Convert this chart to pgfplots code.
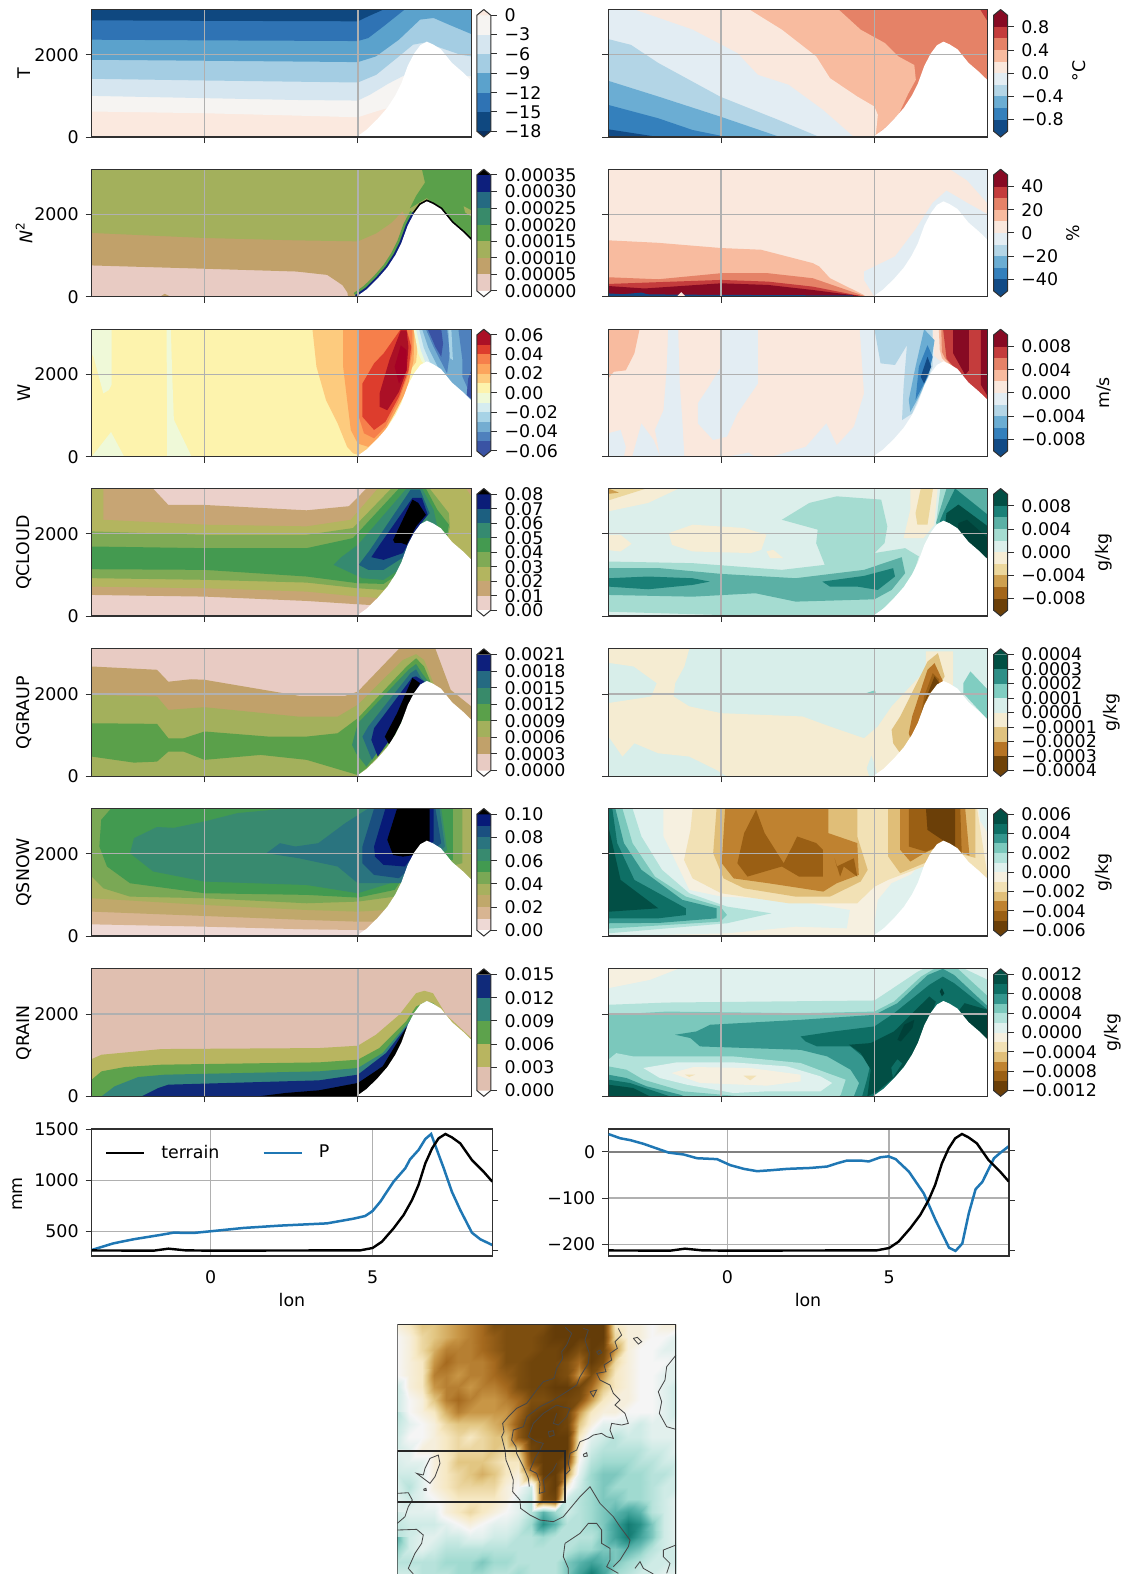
\documentclass[border=0pt]{standalone}
\usepackage{fontspec}
\setmainfont{DejaVu Sans}
\usepackage{pgfplots}
\pgfplotsset{compat=1.18}
\newcommand\fs{\fontsize{8.7}{10}\selectfont}
\newcommand\hc[2]{\definecolor{#1}{HTML}{#2}}
% RdBu
\hc{ra}{870A23}\hc{rb}{C43C3C}\hc{rc}{E58267}\hc{rd}{F8BB9F}\hc{re}{FAE8DD}
\hc{rf}{E3EDF3}\hc{rg}{B3D5E6}\hc{rh}{6BADD3}\hc{ri}{3480BC}\hc{rj}{124B86}
% BrBG 10
\hc{ba}{024F45}\hc{bb}{1A8077}\hc{bc}{5BB0A5}\hc{bd}{A5DCD1}\hc{be}{DCEFEB}
\hc{bf}{F6EDD5}\hc{bg}{ECD79C}\hc{bh}{CEA050}\hc{bi}{A3661B}\hc{bj}{6B3F08}
% BrBG 12
\hc{ca}{024F45}\hc{cb}{0E6F65}\hc{cc}{35968E}\hc{cd}{7BC8BC}\hc{ce}{B2E2DA}\hc{cf}{E0F1EE}
\hc{cg}{F6F0E0}\hc{ch}{F2E1B5}\hc{ci}{E0BE78}\hc{cj}{BF8230}\hc{ck}{9A5F14}\hc{cl}{6B3F08}
% BrBG 8
\hc{da}{014F43}\hc{db}{2F8F87}\hc{dc}{80CDC1}\hc{dd}{D8EEEA}\hc{de}{F5ECD2}\hc{df}{E0C27F}\hc{dg}{B67425}\hc{dh}{6F4208}
% T
\hc{ta}{FBE9DF}\hc{tb}{F6F4F2}\hc{tc}{D6E6F0}\hc{td}{A4CDE3}\hc{te}{5BA2CC}\hc{tf}{2F73B4}\hc{tg}{0F4880}\hc{th}{0A3060}
% W
\hc{wa}{AB1026}\hc{wb}{DD3D2D}\hc{wc}{F67F4B}\hc{wd}{FCA55D}\hc{we}{FDCB7E}\hc{wf}{FDF3AD}
\hc{wg}{EFF9D8}\hc{wh}{D5ECF0}\hc{wi}{A7D3E6}\hc{wj}{74ADD1}\hc{wk}{4F81BD}\hc{wl}{3A53A4}\hc{wz}{A50026}
\hc{xt}{004038}\hc{xb}{9A5F14}
% gist earth, 7 bands
\hc{ea}{E8CBC3}\hc{eb}{C1A16A}\hc{ec}{A3B05C}\hc{ed}{5AA04A}\hc{ee}{388A6A}\hc{ef}{256A82}\hc{eg}{0D1F7C}
% 8 bands
\hc{fa}{EBD0CA}\hc{fb}{C7A574}\hc{fc}{B3B55F}\hc{fd}{7FAA55}\hc{fe}{449A50}\hc{ff}{358A70}\hc{fg}{1C5F80}\hc{fh}{0B1D78}
% 10 bands
\hc{ga}{EED9D5}\hc{gb}{D8B592}\hc{gc}{C0A86B}\hc{gd}{A8B05E}\hc{ge}{7AA855}\hc{gf}{429A50}\hc{gg}{388A6F}\hc{gh}{2A747F}\hc{gi}{1A4F80}\hc{gj}{071A78}
% 5 bands
\hc{ha}{E0BFB0}\hc{hb}{B8B560}\hc{hc}{5DA24C}\hc{hd}{34857C}\hc{he}{102A7A}
\hc{frame}{303030}\hc{gridc}{B0B0B0}\hc{blueP}{1F77B4}

\newcommand\R[2]{\addplot[fill=#1,draw=none,forget plot] coordinates {#2};}
\newcommand\TR{\addplot[fill=white,draw=none,forget plot] coordinates {(4.95,0)(5.29,179)(5.65,444)(5.96,709)(6.22,1007)(6.42,1305)(6.63,1735)(6.84,2033)(7.04,2232)(7.25,2318)(7.45,2252)(7.71,2132)(8.07,1801)(8.43,1570)(8.7,1371)(8.7,0)};}
\newcommand\B[3]{\addplot[fill=#1,draw=none,forget plot] coordinates {(0,#2)(1,#2)(1,#3)(0,#3)};}
\newcommand\CB[6]{%
 \addplot[fill=#5,draw=none,forget plot] coordinates {(0,#2)(1,#2)(0.5,#4)};
 \addplot[fill=#6,draw=none,forget plot] coordinates {(0,#1)(1,#1)(0.5,#3)};
 \addplot[draw=frame,line width=0.5pt,forget plot] coordinates {(0.5,#4)(1,#2)(1,#1)(0.5,#3)(0,#1)(0,#2)(0.5,#4)};}
\newcommand\Lm[1]{\addplot[draw=black!72,line width=0.42pt,forget plot] coordinates {#1};}

\pgfplotsset{
 every tick label/.append style={font=\fs},
 cf/.style={scale only axis,width=189.8pt,height=63.75pt,anchor=south west,
  xmin=-3.68,xmax=8.7,ymin=0,ymax=3100,xtick={0,5},ytick={0,2000},xticklabels={},
  grid=major,grid style={gridc,line width=0.7pt},axis on top,tick align=outside,tick pos=left,
  major tick length=3pt,tick style={frame,line width=0.5pt},axis line style={frame,line width=0.6pt}},
 cfl/.style={cf,yticklabels={0,2000}},
 cfr/.style={cf,yticklabels={}},
 cbar/.style={scale only axis,width=7pt,height=63.75pt,anchor=south west,xmin=0,xmax=1,
  hide x axis,axis y line*=right,axis line style={draw=none},clip=false,scaled y ticks=false,
  tick align=outside,major tick length=3pt,tick style={frame,line width=0.5pt},
  yticklabel style={inner sep=1.5pt,xshift=2.2pt}},
 bot/.style={scale only axis,width=200.3pt,height=63.5pt,anchor=south west,xmin=-3.68,xmax=8.7,
  xtick={0,5},xticklabels={0,5},grid=major,grid style={gridc,line width=0.7pt},
  tick align=outside,tick pos=left,major tick length=3pt,major x tick style={draw=none},
  tick style={frame,line width=0.5pt},axis line style={frame,line width=0.6pt},
  xticklabel style={yshift=-1pt}},
 twin/.style={scale only axis,width=200.3pt,height=63.5pt,anchor=south west,xmin=-3.68,xmax=8.7,
  hide x axis,axis y line*=right,ymin=-106,ymax=2417,ytick={0,1000,2000},yticklabels={},
  tick align=outside,major tick length=3pt,tick style={frame,line width=0.5pt},axis line style={frame,line width=0.6pt}},
 legend image code/.code={\draw[#1] (0pt,0pt) -- (19pt,0pt);},
}

\begin{document}
\begin{tikzpicture}
\path[use as bounding box] (0pt,0pt) rectangle (562.5pt,-787pt);

% ---------- row 1 left T
\begin{axis}[cfl,at={(45.85pt,-68.5pt)}]
\R{ta}{(-3.68,0)(8.7,0)(8.7,3100)(-3.68,3100)}
\R{tb}{(-3.68,620)(0,578)(3,520)(5,480)(5.5,600)(5.9,690)(8.7,690)(8.7,3100)(-3.68,3100)}
\R{tc}{(-3.68,1000)(0,945)(3,900)(5,886)(5.4,1030)(6,1300)(6.47,1480)(8.7,1480)(8.7,3100)(-3.68,3100)}
\R{td}{(-3.68,1415)(0,1374)(3,1345)(5,1325)(5.6,1512)(6.34,1960)(6.8,2244)(7.2,2300)(7.72,2163)(8.35,2000)(8.7,1960)(8.7,3100)(-3.68,3100)}
\R{te}{(-3.68,1878)(0,1854)(3,1835)(5,1821)(5.59,1960)(6.34,2366)(7.03,2854)(7.47,2894)(7.97,2732)(8.7,2504)(8.7,3100)(-3.68,3100)}
\R{tf}{(-3.68,2366)(0,2350)(3,2340)(5,2333)(5.34,2406)(5.84,2691)(6.53,3100)(-3.68,3100)}
\R{tg}{(-3.68,2837)(0,2825)(5,2813)(5.34,2935)(5.84,3100)(-3.68,3100)}
\TR
\end{axis}
\begin{axis}[cbar,at={(238.4pt,-68.5pt)},ymin=-18.9,ymax=0.9,ytick={-18,-15,-12,-9,-6,-3,0},yticklabels={−18,−15,−12,−9,−6,−3,0}]
\B{tg}{-18}{-15}\B{tf}{-15}{-12}\B{te}{-12}{-9}\B{td}{-9}{-6}\B{tc}{-6}{-3}\B{tb}{-3}{0}
\CB{-18}{0}{-18.9}{0.9}{ta}{th}
\end{axis}

% ---------- row 1 right
\begin{axis}[cfr,at={(304.15pt,-68.5pt)}]
\R{rc}{(-3.68,0)(8.7,0)(8.7,3100)(-3.68,3100)}
\R{rb}{(8.45,3100)(8.7,3100)(8.7,2800)}
\R{rd}{(3.83,3100)(4.55,2610)(5.34,2285)(5.78,1960)(6.3,1750)(6.35,1390)(6.1,1050)(5.78,537)(5.3,200)(5,0)(-3.68,0)(-3.68,3100)}
\R{re}{(0.92,3100)(1.98,2610)(3.1,1960)(3.55,1430)(4.44,984)(5,740)(5.11,537)(5.05,90)(5,0)(-3.68,0)(-3.68,3100)}
\R{rf}{(-2.83,3100)(-0.93,2610)(0.53,2040)(1.2,1510)(2.2,1270)(3.32,660)(4.33,0)(-3.68,0)(-3.68,3100)}
\R{rg}{(-3.68,2380)(-2.94,2240)(-2.05,1800)(-0.03,980)(1.87,415)(3.21,0)(-3.68,0)}
\R{rh}{(-3.68,1366)(-2.05,984)(-0.03,496)(1.92,0)(-3.68,0)}
\R{ri}{(-3.68,780)(-2.05,455)(-0.93,170)(0.19,0)(-3.68,0)}
\R{rj}{(-3.68,187)(-2.05,0)(-3.68,0)}
\TR
\end{axis}
\begin{axis}[cbar,at={(496.8pt,-68.5pt)},ymin=-1.1,ymax=1.1,ytick={-0.8,-0.4,0,0.4,0.8},yticklabels={−0.8,−0.4,0.0,0.4,0.8}]
\B{rj}{-1}{-0.8}\B{ri}{-0.8}{-0.6}\B{rh}{-0.6}{-0.4}\B{rg}{-0.4}{-0.2}\B{rf}{-0.2}{0}\B{re}{0}{0.2}\B{rd}{0.2}{0.4}\B{rc}{0.4}{0.6}\B{rb}{0.6}{0.8}\B{ra}{0.8}{1}
\CB{-1}{1}{-1.1}{1.1}{ra}{rj}
\end{axis}

% ---------- row 2 left N2
\begin{axis}[cfl,at={(45.85pt,-148.35pt)}]
\R{ea}{(-3.68,0)(8.7,0)(8.7,3100)(-3.68,3100)}
\R{eb}{(-1.45,0)(-1.3,70)(-1.1,0)}
\R{eb}{(-3.68,760)(0,680)(3,612)(4,530)(4.5,280)(4.66,100)(4.68,0)(8.7,0)(8.7,3100)(-3.68,3100)}
\R{ec}{(-3.68,1550)(0,1428)(3,1370)(5,1346)(5.6,1540)(6.1,1800)(6.46,2080)(6.7,1700)(8.7,1000)(8.7,3100)(-3.68,3100)}
\R{ed}{(7.09,3100)(7.19,2775)(6.9,2450)(6.7,2150)(7.25,2400)(8.7,1300)(8.7,3100)}
\R{ec}{(8.45,2200)(8.7,2100)(8.7,1950)(8.5,2050)}
\addplot[draw=ed,line width=4.5pt,forget plot] coordinates {(4.95,0)(5.29,179)(5.65,444)(5.96,709)(6.22,1007)(6.42,1305)(6.63,1735)(6.84,2033)};
\addplot[draw=eg,line width=2pt,forget plot] coordinates {(4.95,0)(5.29,179)(5.65,444)(5.96,709)(6.22,1007)(6.42,1305)(6.63,1735)(6.84,2033)};
\addplot[draw=black,line width=1.7pt,forget plot] coordinates {(6.84,2033)(7.04,2232)(7.25,2318)(7.45,2252)(7.71,2132)(8.07,1801)(8.43,1570)(8.7,1371)};
\TR
\end{axis}
\begin{axis}[cbar,at={(238.4pt,-148.35pt)},ymin=-0.0000175,ymax=0.0003675,ytick={0,0.00005,0.0001,0.00015,0.0002,0.00025,0.0003,0.00035},yticklabels={0.00000,0.00005,0.00010,0.00015,0.00020,0.00025,0.00030,0.00035}]
\B{ea}{0}{0.00005}\B{eb}{0.00005}{0.0001}\B{ec}{0.0001}{0.00015}\B{ed}{0.00015}{0.0002}\B{ee}{0.0002}{0.00025}\B{ef}{0.00025}{0.0003}\B{eg}{0.0003}{0.00035}
\CB{0}{0.00035}{-0.0000175}{0.0003675}{black}{white}
\end{axis}

% ---------- row 2 right
\begin{axis}[cfr,at={(304.15pt,-148.35pt)}]
\R{re}{(-3.68,0)(8.7,0)(8.7,3100)(-3.68,3100)}
\R{rf}{(4.66,612)(5.67,980)(6.34,1640)(6.9,2285)(7.35,2580)(8.02,2285)(8.7,2000)(8.7,0)(5,0)(4.66,408)}
\R{rf}{(7.46,3100)(8.02,2830)(8.7,2260)(8.7,3100)}
\R{rd}{(-3.68,1371)(-2.05,1310)(0,1183)(1.3,1142)(2.99,816)(3.2,735)(3.55,449)(4.66,40)(4.7,0)(-3.68,0)}
\R{rc}{(-3.68,473)(-2.05,424)(0,571)(1.53,571)(2.99,449)(4.1,163)(4.66,20)(4.7,0)(-3.68,0)}
\R{rb}{(-3.68,310)(0,408)(1.53,367)(2.99,245)(4.55,16)(4.7,0)(-3.68,0)}
\R{ra}{(-3.68,260)(-2.5,200)(-1.3,260)(0,326)(1.53,286)(2.99,163)(4.7,0)(-3.68,0)}
\R{rj}{(-3.68,0)(-3.68,80)(-3.2,60)(-2.6,100)(-2.4,60)(-1.5,50)(4.3,30)(4.3,0)}
\R{re}{(-1.45,0)(-1.3,110)(-1.15,0)}
\TR
\end{axis}
\begin{axis}[cbar,at={(496.8pt,-148.35pt)},ymin=-55,ymax=55,ytick={-40,-20,0,20,40},yticklabels={−40,−20,0,20,40}]
\B{rj}{-50}{-40}\B{ri}{-40}{-30}\B{rh}{-30}{-20}\B{rg}{-20}{-10}\B{rf}{-10}{0}\B{re}{0}{10}\B{rd}{10}{20}\B{rc}{20}{30}\B{rb}{30}{40}\B{ra}{40}{50}
\CB{-50}{50}{-55}{55}{ra}{rj}
\end{axis}

% ---------- row 3 left W
\begin{axis}[cfl,at={(45.85pt,-228.35pt)}]
\R{wf}{(-3.68,0)(8.7,0)(8.7,3100)(-3.68,3100)}
\R{wg}{(-3.68,3100)(-3.03,3100)(-3.03,1750)(-3.12,1620)(-3.3,1540)(-3.62,2430)(-3.68,2500)}
\R{wg}{(-1.24,3100)(-1.1,3100)(-1.05,1900)(-1,900)(-0.42,0)(-1.22,0)(-1.22,1000)}
\R{wg}{(-3.68,0)(-3.05,600)(-2.62,0)}
\R{we}{(3.52,3100)(3.65,2190)(3.96,1380)(4.34,810)(4.65,240)(4.85,80)(5.1,30)(5.5,200)(6.65,2050)(6.9,2300)(7.0,3100)}
\R{wd}{(4.52,3100)(4.52,2190)(4.65,1380)(4.77,650)(5,320)(5.34,240)(5.84,570)(6.2,1050)(6.6,1620)(6.82,2350)(6.84,3100)}
\R{wc}{(5,3100)(5,1050)(5.2,570)(5.53,445)(5.9,730)(6.34,1380)(6.65,2025)(6.78,2590)(6.78,3100)}
\R{wb}{(6.4,3100)(5.84,2510)(5.53,2270)(5.15,1780)(5.15,970)(5.53,650)(5.9,850)(6.34,1460)(6.65,2100)(6.74,2670)(6.59,3100)}
\R{wa}{(6.4,3070)(6.03,2350)(5.71,1540)(5.71,1215)(5.96,1130)(6.34,1580)(6.59,2100)(6.65,2670)(6.59,3070)}
\R{wz}{(6.4,2710)(6.2,2190)(6.34,1780)(6.59,2100)(6.59,2590)}
\R{wg}{(6.82,3100)(6.97,2510)(7.09,2310)(8.7,1300)(8.7,3100)}
\R{wh}{(6.9,3100)(7.05,2600)(7.2,2300)(8.7,1300)(8.7,3100)}
\R{wi}{(7.0,3100)(7.15,2650)(7.35,2300)(8.7,1300)(8.7,3100)}
\R{wj}{(7.1,3100)(7.3,2650)(7.6,2200)(7.95,1800)(8.7,1300)(8.7,3100)}
\R{wk}{(7.22,3100)(7.47,2670)(7.91,2025)(8.0,2510)(7.91,3100)}
\R{wl}{(7.28,3100)(7.53,2670)(7.72,2430)(7.78,2750)(7.72,3100)}
\R{wi}{(7.95,3100)(8.05,3100)(8.1,2350)(8.0,2400)}
\R{wk}{(8.28,3100)(8.41,2350)(8.41,1950)(8.7,1460)(8.7,3100)}
\R{wl}{(8.6,1900)(8.7,2100)(8.7,1400)(8.55,1500)}
\TR
\end{axis}
\begin{axis}[cbar,at={(238.4pt,-228.35pt)},ymin=-0.066,ymax=0.066,ytick={-0.06,-0.04,-0.02,0,0.02,0.04,0.06},yticklabels={−0.06,−0.04,−0.02,0.00,0.02,0.04,0.06}]
\B{wl}{-0.06}{-0.05}\B{wk}{-0.05}{-0.04}\B{wj}{-0.04}{-0.03}\B{wi}{-0.03}{-0.02}\B{wh}{-0.02}{-0.01}\B{wg}{-0.01}{0}\B{wf}{0}{0.01}\B{we}{0.01}{0.02}\B{wd}{0.02}{0.03}\B{wc}{0.03}{0.04}\B{wb}{0.04}{0.05}\B{wa}{0.05}{0.06}
\CB{-0.06}{0.06}{-0.066}{0.066}{wa}{wl}
\end{axis}

% ---------- row 3 right
\begin{axis}[cfr,at={(304.15pt,-228.35pt)}]
\R{re}{(-3.68,0)(8.7,0)(8.7,3100)(-3.68,3100)}
\R{rd}{(-3.68,3100)(-2.66,3100)(-2.83,2510)(-3.11,2100)(-3.5,2065)(-3.68,1900)}
\R{rf}{(-1.73,3100)(-1.4,3100)(-1.35,1780)(-1.26,810)(-1.2,0)(-1.99,0)(-2.16,650)(-1.88,1130)(-1.77,2190)}
\R{rf}{(0,3100)(1.2,3100)(1.2,1780)(0.53,1050)(0.19,490)(-0.26,405)(-0.76,810)(-0.76,1300)(-0.4,1700)(0,2190)}
\R{rf}{(0.2,0)(0.9,100)(1.1,0)}
\R{rf}{(-3.68,570)(-3.28,650)(-3.11,240)(-3.17,0)(-3.68,0)}
\R{rf}{(-2.9,0)(-2.6,810)(-2.2,405)(-1.99,0)}
\R{rf}{(4.52,3100)(4.66,1540)(4.33,730)(3.77,280)(3.43,810)(2.76,240)(1.64,0)(8.7,0)(8.7,3100)}
\R{re}{(6.9,3100)(6.95,2450)(7.2,2290)(8.7,1400)(8.7,3100)}
\R{rg}{(5,3100)(5.2,2270)(5.67,2230)(6.06,2710)(5.95,1700)(5.9,890)(6.23,1050)(6.9,2190)(6.9,3100)}
\R{rh}{(6.62,3100)(6.96,2830)(6.79,2025)(6.45,1460)(6.17,1090)(6.12,1380)(6.34,2190)}
\R{ri}{(6.73,2710)(6.9,2430)(6.73,1940)(6.34,1380)(6.45,2190)}
\R{rj}{(6.73,2430)(6.85,2190)(6.62,1780)(6.51,1940)}
\R{rd}{(7.1,3100)(7.13,2600)(7.2,2400)(7.85,1900)(8.7,1350)(8.7,3100)}
\R{rc}{(7.18,3100)(7.2,2550)(7.3,2400)(7.85,1900)(8.7,1350)(8.7,3100)}
\R{rb}{(7.24,3100)(7.35,2390)(7.85,1940)(8.7,1380)(8.7,3100)}
\R{ra}{(7.57,3100)(7.57,2510)(7.96,1985)(8.08,2100)(8.08,3100)}
\R{ra}{(8.47,3100)(8.47,1750)(8.7,1460)(8.7,3100)}
\TR
\end{axis}
\begin{axis}[cbar,at={(496.8pt,-228.35pt)},ymin=-0.011,ymax=0.011,ytick={-0.008,-0.004,0,0.004,0.008},yticklabels={−0.008,−0.004,0.000,0.004,0.008}]
\B{rj}{-0.01}{-0.008}\B{ri}{-0.008}{-0.006}\B{rh}{-0.006}{-0.004}\B{rg}{-0.004}{-0.002}\B{rf}{-0.002}{0}\B{re}{0}{0.002}\B{rd}{0.002}{0.004}\B{rc}{0.004}{0.006}\B{rb}{0.006}{0.008}\B{ra}{0.008}{0.01}
\CB{-0.01}{0.01}{-0.011}{0.011}{ra}{rj}
\end{axis}

% ---------- row 4 left QCLOUD
\begin{axis}[cfl,at={(45.85pt,-308pt)}]
\R{fa}{(-3.68,0)(8.7,0)(8.7,3100)(-3.68,3100)}
\R{fb}{(-3.68,512)(0,472)(3.33,366)(5,285)(5.4,268)(8.7,268)(8.7,3100)(5.28,3100)(4.71,2670)(3.33,2570)(0,2700)(-1.18,2700)(-1.68,3100)(-3.68,3100)}
\R{fc}{(-3.68,715)(0,675)(3.33,594)(5,472)(5.84,430)(8.7,430)(8.7,2910)(8.53,3100)(5.65,3100)(4.77,2340)(3.33,2180)(0,2220)(-3.3,2340)(-3.3,3100)(-3.68,3100)}
\R{fd}{(-3.68,920)(0,880)(3.33,813)(5,675)(5.84,634)(6.09,797)(7.8,1500)(8.0,2150)(7.97,2500)(7.34,3100)(6.09,3100)(4.84,2138)(3.33,1975)(0,1975)(-3.68,2057)}
\R{fe}{(-3.68,1138)(0,1122)(3.33,960)(5,797)(5.84,780)(6.2,960)(7.8,1500)(7.97,2220)(7.59,2585)(7.22,3100)(6.34,3100)(4.84,1894)(3.33,1650)(0,1650)(-3.68,1690)}
\R{ff}{(4.21,1244)(4.46,1430)(5,1730)(6.59,3100)(7.09,3100)(7.47,2585)(7.6,2150)(6.34,1122)(5.84,878)(5.15,918)}
\R{fg}{(5.03,1244)(5.4,1610)(6.72,3070)(7.03,3070)(7.34,2500)(7.09,2300)(6.53,1450)(5.84,1122)(5.34,1122)}
\R{fh}{(5.44,1430)(5.71,1730)(6.78,2870)(7.09,2870)(7.28,2460)(6.9,2100)(6.47,1530)(5.84,1366)}
\R{black}{(6.15,1850)(6.78,2830)(6.97,2750)(7.22,2460)(6.9,2180)(6.59,1730)(6.4,1780)(6.2,1780)}
\TR
\end{axis}
\begin{axis}[cbar,at={(238.4pt,-308pt)},ymin=-0.004,ymax=0.084,ytick={0,0.01,0.02,0.03,0.04,0.05,0.06,0.07,0.08},yticklabels={0.00,0.01,0.02,0.03,0.04,0.05,0.06,0.07,0.08}]
\B{fa}{0}{0.01}\B{fb}{0.01}{0.02}\B{fc}{0.02}{0.03}\B{fd}{0.03}{0.04}\B{fe}{0.04}{0.05}\B{ff}{0.05}{0.06}\B{fg}{0.06}{0.07}\B{fh}{0.07}{0.08}
\CB{0}{0.08}{-0.004}{0.084}{black}{white}
\end{axis}

% ---------- row 4 right
\begin{axis}[cfr,at={(304.15pt,-308pt)}]
\R{be}{(-3.68,0)(8.7,0)(8.7,3100)(-3.68,3100)}
\R{bf}{(-3.68,3100)(-1.38,3100)(-2.38,2750)(-3.68,2545)}
\R{bg}{(-3.68,3100)(-2.44,3100)(-3.68,2810)}
\R{bh}{(-3.68,3100)(-3.33,3000)(-3.68,2970)}
\R{bf}{(-3.68,1975)(-3.28,1975)(-2.92,1755)(-3.28,1570)(-3.68,1600)}
\R{bf}{(-1.71,2015)(-0.93,2220)(0.75,2140)(1.48,1975)(1.31,1610)(0.97,1530)(-0.93,1570)(-1.6,1730)}
\R{bf}{(1.48,1570)(1.7,1610)(2.03,1405)(1.6,1405)}
\R{bd}{(-3.68,1325)(-0.93,1285)(1.98,1122)(3.38,1244)(3.1,1772)(3.15,2100)(1.98,2340)(2.88,2750)(3.77,2910)(5.22,2830)(5.42,2180)(5.33,1772)(5,1530)(6.0,1650)(6.45,1447)(6.2,878)(5.11,24)(0,24)(-3.68,105)}
\R{bc}{(-3.68,1163)(-2,1163)(0,1024)(2.43,919)(4.66,1122)(5.89,1430)(6.0,1040)(5.56,634)(5,406)(2.43,350)(1.12,553)(-0.93,470)(-3.68,512)}
\R{bb}{(-3.68,918)(-2.38,960)(-0.93,918)(-0.37,837)(-0.93,756)(-2.38,650)(-3.68,715)}
\R{bb}{(3.3,837)(4.66,975)(5.61,1163)(5.67,960)(5.11,634)(4.44,715)(3.55,715)}
\R{bf}{(6.17,3100)(7.06,3100)(6.95,2220)(6.6,1894)(5.95,1894)(6.17,2585)}
\R{bg}{(6.51,3100)(6.91,3100)(6.73,2220)(6.4,2220)(6.34,2500)}
\R{bd}{(7.15,3100)(8.7,3100)(8.7,1300)(7,2200)}
\R{bc}{(7.35,3100)(8.7,3100)(8.7,1300)(7.01,2260)}
\R{bb}{(7.63,3100)(8.7,2460)(8.7,1300)(7.13,2300)(7.24,2500)}
\R{ba}{(7.35,2500)(7.74,2710)(8.7,2180)(8.7,1300)(7.3,2200)}
\R{xt}{(7.74,2260)(8.02,2340)(8.7,1894)(8.7,1300)(7.7,2000)}
\TR
\end{axis}
\begin{axis}[cbar,at={(496.8pt,-308pt)},ymin=-0.011,ymax=0.011,ytick={-0.008,-0.004,0,0.004,0.008},yticklabels={−0.008,−0.004,0.000,0.004,0.008}]
\B{bj}{-0.01}{-0.008}\B{bi}{-0.008}{-0.006}\B{bh}{-0.006}{-0.004}\B{bg}{-0.004}{-0.002}\B{bf}{-0.002}{0}\B{be}{0}{0.002}\B{bd}{0.002}{0.004}\B{bc}{0.004}{0.006}\B{bb}{0.006}{0.008}\B{ba}{0.008}{0.01}
\CB{-0.01}{0.01}{-0.011}{0.011}{ba}{bj}
\end{axis}

% ---------- row 5 left QGRAUP
\begin{axis}[cfl,at={(45.85pt,-388.15pt)}]
\R{ea}{(-3.68,0)(8.7,0)(8.7,3100)(-3.68,3100)}
\R{eb}{(-3.68,2670)(-1.55,2590)(-1.18,2300)(-0.43,2360)(0,2347)(3.08,1957)(4.59,1957)(5,2060)(6.34,3100)(7.53,3100)(8.03,2100)(8.7,1700)(8.7,0)(-3.68,0)}
\R{ec}{(-3.68,1980)(-1.55,1940)(-1.18,1615)(0,1680)(3.08,1450)(4.34,1450)(5,1740)(6.47,2830)(6.9,2970)(7.16,2830)(7.4,2385)(7.5,2200)(7.5,0)(-3.68,0)}
\R{ed}{(-3.68,480)(-2.3,333)(-1.55,357)(-1.18,600)(-0.68,600)(0,400)(1.83,520)(3.33,400)(5,30)(5.34,235)(7.5,2000)(7.34,2350)(7.16,2670)(6.9,2870)(6.59,2670)(5,1413)(4.34,1047)(3.33,966)(2.08,966)(0,1090)(-0.68,925)(-1.18,925)(-1.55,1275)(-3.68,1290)}
\R{ee}{(4.81,763)(5,1290)(6.65,2590)(6.9,2730)(7.09,2510)(7.3,2300)(5.28,235)(4.95,550)}
\R{ef}{(5.15,966)(5.34,1210)(6.72,2510)(6.9,2600)(7.06,2390)(7.2,2300)(5.46,400)}
\R{eg}{(5.44,885)(5.53,1170)(6.78,2410)(6.9,2430)(7.16,2306)(6.78,1940)(6.34,1210)(5.65,480)}
\R{black}{(5.88,966)(6.28,1535)(6.78,2390)(7.03,2265)(6.78,1940)(6.4,1290)(6.03,763)}
\TR
\end{axis}
\begin{axis}[cbar,at={(238.4pt,-388.15pt)},ymin=-0.000105,ymax=0.002205,ytick={0,0.0003,0.0006,0.0009,0.0012,0.0015,0.0018,0.0021},yticklabels={0.0000,0.0003,0.0006,0.0009,0.0012,0.0015,0.0018,0.0021}]
\B{ea}{0}{0.0003}\B{eb}{0.0003}{0.0006}\B{ec}{0.0006}{0.0009}\B{ed}{0.0009}{0.0012}\B{ee}{0.0012}{0.0015}\B{ef}{0.0015}{0.0018}\B{eg}{0.0018}{0.0021}
\CB{0}{0.0021}{-0.000105}{0.002205}{black}{white}
\end{axis}

% ---------- row 5 right
\begin{axis}[cfr,at={(304.15pt,-388.15pt)}]
\R{dd}{(-3.68,0)(8.7,0)(8.7,3100)(-3.68,3100)}
\R{de}{(-3.68,3100)(-1.04,3100)(-1.2,2670)(-1.5,2265)(-1.55,1940)(-1.04,1700)(0,1535)(2.65,1455)(3.55,1210)(4.66,925)(5.11,1210)(5.56,1700)(6.68,2590)(6.68,3040)(7.57,3040)(7.57,2430)(7.4,0)(0.19,0)(-0.15,154)(-1.04,480)(-2.05,560)(-2.83,804)(-3.22,480)(-3.67,966)(-3.68,1780)(-2.28,1940)(-2.1,2265)(-2.85,2670)(-3.68,2760)}
\R{dd}{(4.83,0)(4.75,200)(4.9,500)(5,300)(5.1,0)}
\R{df}{(5.56,1130)(5.84,1455)(6.73,2790)(7.07,2995)(7.29,2430)(6.12,885)(5.84,560)(5.61,804)}
\R{dg}{(6.12,1047)(6.23,1455)(6.73,2590)(6.96,2750)(7.24,2300)(6.45,1210)(6.17,925)}
\R{xb}{(6.45,1210)(6.62,1940)(6.9,2510)(7.12,2350)(6.9,2000)}
\R{dh}{(6.62,1780)(6.96,2430)(7.12,2265)(6.79,2020)}
\R{dc}{(7.9,2265)(8.13,2550)(8.7,2100)(8.7,1370)(7.9,2020)}
\R{dc}{(4.6,1990)(5,2090)(5.05,2040)(4.8,1980)}
\TR
\end{axis}
\begin{axis}[cbar,at={(496.8pt,-388.15pt)},ymin=-0.00044,ymax=0.00044,ytick={-0.0004,-0.0003,-0.0002,-0.0001,0,0.0001,0.0002,0.0003,0.0004},yticklabels={−0.0004,−0.0003,−0.0002,−0.0001,0.0000,0.0001,0.0002,0.0003,0.0004}]
\B{dh}{-0.0004}{-0.0003}\B{dg}{-0.0003}{-0.0002}\B{df}{-0.0002}{-0.0001}\B{de}{-0.0001}{0}\B{dd}{0}{0.0001}\B{dc}{0.0001}{0.0002}\B{db}{0.0002}{0.0003}\B{da}{0.0003}{0.0004}
\CB{-0.0004}{0.0004}{-0.00044}{0.00044}{da}{dh}
\end{axis}

% ---------- row 6 left QSNOW
\begin{axis}[cfl,at={(45.85pt,-468pt)}]
\R{ga}{(-3.68,0)(8.7,0)(8.7,3100)(-3.68,3100)}
\R{gb}{(-3.68,284)(0,227)(3.33,162)(5,146)(8.7,146)(8.7,3100)(-3.68,3100)}
\R{gc}{(-3.68,593)(0,487)(3.33,390)(5,349)(5.65,349)(8.7,349)(8.7,3100)(-3.68,3100)}
\R{gd}{(-3.68,918)(0,755)(3.33,633)(5,593)(5.96,633)(8.7,633)(8.7,3100)(-3.68,3100)}
\R{ge}{(-3.68,1445)(-3.3,1160)(-2.43,958)(0,918)(3.33,796)(5,836)(6.2,958)(6.6,1445)(8.41,1770)(8.41,3100)(-3.68,3100)}
\R{gf}{(-3.37,2825)(-3.43,2176)(-3.18,1690)(-2.43,1283)(0,1040)(3.33,1000)(5,934)(6.2,1120)(6.65,1610)(8.1,1850)(8.1,3100)(-3.05,3100)}
\R{gg}{(-2.43,2014)(-2.3,2380)(-1.55,2650)(-1,2630)(0,2785)(1.08,2990)(2.7,3100)(7.72,3100)(7.91,2095)(7,1500)(5,1040)(3.33,1240)(0,1324)(-1.68,1570)}
\R{gh}{(2.02,2014)(2.46,2257)(2.96,2176)(3.71,2257)(4.59,2745)(5.34,3100)(7.66,3100)(7.84,2176)(6.6,1283)(5,1283)(4.34,1690)(3.08,1890)}
\R{gi}{(5.15,2176)(5.53,3100)(7.53,3100)(7.72,2257)(6.65,1610)(6.34,1405)(5.53,1486)(5.15,1770)}
\R{gj}{(5.53,2176)(5.9,3100)(7.47,3100)(7.47,2300)(6.78,1930)(6.53,1690)(5.84,1730)(5.56,1930)}
\R{black}{(5.96,2340)(6.28,3100)(7.34,3100)(7.34,2300)(6.84,1970)(6.47,1930)(6.15,1970)}
\TR
\end{axis}
\begin{axis}[cbar,at={(238.4pt,-468pt)},ymin=-0.005,ymax=0.105,ytick={0,0.02,0.04,0.06,0.08,0.1},yticklabels={0.00,0.02,0.04,0.06,0.08,0.10}]
\B{ga}{0}{0.01}\B{gb}{0.01}{0.02}\B{gc}{0.02}{0.03}\B{gd}{0.03}{0.04}\B{ge}{0.04}{0.05}\B{gf}{0.05}{0.06}\B{gg}{0.06}{0.07}\B{gh}{0.07}{0.08}\B{gi}{0.08}{0.09}\B{gj}{0.09}{0.1}
\CB{0}{0.1}{-0.005}{0.105}{black}{white}
\end{axis}

% ---------- row 6 right
\begin{axis}[cfr,at={(304.15pt,-468pt)}]
\R{cg}{(-3.68,0)(8.7,0)(8.7,3100)(-3.68,3100)}
\R{cf}{(-2.6,3100)(-1.88,3100)(-1.88,2420)(-1.04,1120)(0,958)(2.2,877)(4.2,633)(4.1,187)(2.43,227)(0.19,65)(-3.68,0)(-3.68,3100)}
\R{cf}{(5,300)(5.11,877)(5.56,1283)(6.2,1500)(6.75,1950)(6.75,1400)(5.8,200)(5,0)}
\R{cf}{(8.4,3100)(8.7,3100)(8.7,2500)(8.45,2800)}
\R{ce}{(-3.68,3100)(-2.89,3100)(-2.6,2420)(-1.93,1610)(-1.04,1040)(0.19,715)(1.64,552)(0.19,310)(-3.68,65)}
\R{cd}{(-3.68,3100)(-3.22,3100)(-2.89,2257)(-2.16,1445)(-1.15,958)(-0.03,715)(0.19,512)(-0.03,350)(-3.68,180)}
\R{cc}{(-3.68,3100)(-3.45,3100)(-3.17,2257)(-2.6,1610)(-1.26,877)(-0.15,674)(-0.15,430)(-2,320)(-3.68,310)}
\R{cb}{(-3.68,3100)(-3.55,3100)(-3.39,2257)(-2.83,1364)(-1.15,674)(-1.15,510)(-2.05,430)(-3.68,430)}
\R{ca}{(-3.68,2660)(-3.6,2420)(-3.28,1364)(-2.05,674)(-3.68,590)}
\R{ch}{(-0.93,3100)(-1,2580)(-1.21,1850)(-0.93,1400)(0,1040)(2.2,796)(4.44,796)(5,1200)(5.44,1364)(6.6,1690)(6.9,2010)(7.29,2300)(7.9,1890)(8.7,1400)(8.35,3100)}
\R{ci}{(-0.15,3100)(-0.26,2014)(0.08,1400)(0.75,1160)(2.43,958)(3.55,958)(4.55,1324)(4.78,1610)(4.44,2420)(4.44,3100)}
\R{ci}{(5.45,3100)(5.45,1930)(5.84,1526)(6.62,1770)(7.29,2100)(8.29,1900)(8.29,3100)}
\R{cj}{(0.13,3100)(0.02,1770)(0.41,1400)(1.54,1283)(3.33,1080)(3.77,1283)(4.49,1486)(4.44,2260)(3.5,2500)(3.5,3100)}
\R{cj}{(5.84,3100)(5.84,2095)(6.17,1810)(6.62,2010)(7.29,2250)(8.1,1950)(7.96,3100)}
\R{ck}{(1.14,3070)(0.75,2500)(0.53,1770)(0.86,1445)(1.98,1690)(2.54,1445)(3.32,1445)(3.32,2095)(3.1,2260)(2.48,2420)(2.32,2176)(2.04,1770)(1.42,2500)}
\R{ck}{(3.77,1690)(4.33,1890)(4.44,1445)(4.0,1690)(3.88,1445)(3.7,1890)}
\R{ck}{(6.12,3100)(6.12,2176)(6.68,2050)(7.29,2250)(7.85,1930)(7.8,3100)}
\R{cl}{(6.68,3100)(6.73,2580)(7.29,2300)(7.63,2095)(7.63,3100)}
\TR
\end{axis}
\begin{axis}[cbar,at={(496.8pt,-468pt)},ymin=-0.0066,ymax=0.0066,ytick={-0.006,-0.004,-0.002,0,0.002,0.004,0.006},yticklabels={−0.006,−0.004,−0.002,0.000,0.002,0.004,0.006}]
\B{cl}{-0.006}{-0.005}\B{ck}{-0.005}{-0.004}\B{cj}{-0.004}{-0.003}\B{ci}{-0.003}{-0.002}\B{ch}{-0.002}{-0.001}\B{cg}{-0.001}{0}\B{cf}{0}{0.001}\B{ce}{0.001}{0.002}\B{cd}{0.002}{0.003}\B{cc}{0.003}{0.004}\B{cb}{0.004}{0.005}\B{ca}{0.005}{0.006}
\CB{-0.006}{0.006}{-0.0066}{0.0066}{ca}{cl}
\end{axis}

% ---------- row 7 left QRAIN
\begin{axis}[cfl,at={(45.85pt,-548.15pt)}]
\R{ha}{(-3.68,0)(8.7,0)(8.7,3100)(-3.68,3100)}
\R{hb}{(-3.68,906)(-3.36,1011)(-1.4,1149)(3.73,1173)(5,1230)(5.59,1497)(6.35,1982)(6.9,2508)(7.17,2565)(7.45,2508)(7.88,1982)(8.7,1416)(8.7,0)(-3.68,0)}
\R{hc}{(-3.68,405)(-3.36,607)(-2.6,712)(-1.4,769)(3.73,825)(5,890)(5.7,1173)(6.57,1820)(6.9,2184)(7.23,2306)(7.45,2270)(7.7,2100)(7.7,0)(-3.68,0)}
\R{hd}{(-3.36,0)(-2.93,243)(-2.16,469)(-1.29,526)(3.73,607)(5,688)(5.81,1052)(6.63,1780)(7.0,2184)(7.0,0)}
\R{he}{(-2.05,0)(-1.51,202)(-1.18,283)(3.73,388)(5,526)(5.92,1052)(6.68,1780)(6.9,1900)(6.9,0)}
\R{black}{(1.77,0)(2.64,81)(3.73,146)(5,324)(5.81,728)(6.57,1660)(6.9,1800)(6.9,0)}
\TR
\end{axis}
\begin{axis}[cbar,at={(238.4pt,-548.15pt)},ymin=-0.00075,ymax=0.01575,ytick={0,0.003,0.006,0.009,0.012,0.015},yticklabels={0.000,0.003,0.006,0.009,0.012,0.015}]
\B{ha}{0}{0.003}\B{hb}{0.003}{0.006}\B{hc}{0.006}{0.009}\B{hd}{0.009}{0.012}\B{he}{0.012}{0.015}
\CB{0}{0.015}{-0.00075}{0.01575}{black}{white}
\end{axis}

% ---------- row 7 right
\begin{axis}[cfr,at={(304.15pt,-548.15pt)}]
\R{cf}{(-3.68,0)(8.7,0)(8.7,3100)(-3.68,3100)}
\R{cg}{(-3.68,3100)(-1.4,3100)(-2.33,2830)(-3.68,2630)}
\R{ce}{(-3.68,2225)(-1.78,2280)(5,2330)(5.53,2590)(6.41,3030)(6.6,3100)(7.94,3100)(8.7,2830)(8.7,0)(-3.68,0)}
\R{cd}{(-3.68,1980)(-1.78,2060)(2.59,2020)(5,2060)(5.64,2305)(6.52,2910)(6.95,3100)(7.72,3100)(8.7,2430)(8.7,0)(-3.68,0)}
\R{cc}{(-1.5,1497)(-0.8,1578)(-0.36,1740)(2.59,1860)(5,1980)(5.75,2265)(6.74,2950)(7.23,3100)(7.6,2950)(8.7,2184)(8.7,0)(4.33,0)(4.5,324)(4.22,647)(3.46,970)(2.59,1130)(-0.69,1213)(-1,1416)}
\R{cb}{(2.59,1456)(3.68,1578)(5,1700)(5.64,2020)(6.79,2710)(7.23,2910)(7.6,2750)(8.7,2100)(8.7,0)(4.6,0)(4.75,400)(4.88,810)(4.22,1213)(3.13,1213)(2.75,1335)}
\R{ca}{(4.17,1254)(4.88,1294)(5.64,1578)(6.79,2427)(7.0,2300)(6.5,1200)(5.7,500)(5.1,121)(4.77,0)(4.88,647)(4.55,1052)}
\R{cb}{(5.55,700)(5.75,900)(5.9,800)(5.6,450)}
\R{xt}{(5.75,1375)(5.97,1740)(6.3,1860)(6.24,1660)(5.86,1335)}
\R{xt}{(7.2,2630)(7.28,2500)(7.2,2430)(7.13,2550)}
\R{ca}{(7.77,2100)(7.94,2265)(8.7,2100)(8.7,1300)(7.94,1800)}
\R{xt}{(7.9,2000)(8.7,1950)(8.7,1300)(8,1700)}
\R{ce}{(-3.68,890)(-3.42,1050)(-2.87,970)(0.4,970)(2.59,810)(3.46,566)(4.06,405)(3.9,40)(3.85,0)(-3.68,0)}
\R{cf}{(-2.54,688)(-1.45,825)(0.4,825)(2.15,728)(3.24,485)(3.62,324)(3.24,121)(1.5,121)(0.4,80)(-1.12,283)(-2,445)}
\R{cg}{(-1.62,566)(-0.9,712)(0.95,688)(2.59,526)(2.59,364)(1.5,259)(-0.69,324)}
\R{ch}{(-1.18,526)(-0.85,526)(-1.04,470)}
\R{ch}{(0.73,500)(1.15,500)(0.95,388)}
\R{cd}{(-3.68,728)(-3.09,647)(-2.54,405)(-1.24,121)(0.62,0)(-3.68,0)}
\R{cc}{(-3.68,526)(-3.09,445)(-2.43,243)(-1.34,40)(-1.2,0)(-3.68,0)}
\R{cb}{(-3.68,405)(-2.98,324)(-2.33,162)(-1.67,0)(-3.68,0)}
\R{ca}{(-3.68,283)(-2.87,202)(-2.33,0)(-3.68,0)}
\TR
\end{axis}
\begin{axis}[cbar,at={(496.8pt,-548.15pt)},ymin=-0.00132,ymax=0.00132,ytick={-0.0012,-0.0008,-0.0004,0,0.0004,0.0008,0.0012},yticklabels={−0.0012,−0.0008,−0.0004,0.0000,0.0004,0.0008,0.0012}]
\B{cl}{-0.0012}{-0.001}\B{ck}{-0.001}{-0.0008}\B{cj}{-0.0008}{-0.0006}\B{ci}{-0.0006}{-0.0004}\B{ch}{-0.0004}{-0.0002}\B{cg}{-0.0002}{0}\B{cf}{0}{0.0002}\B{ce}{0.0002}{0.0004}\B{cd}{0.0004}{0.0006}\B{cc}{0.0006}{0.0008}\B{cb}{0.0008}{0.001}\B{ca}{0.001}{0.0012}
\CB{-0.0012}{0.0012}{-0.00132}{0.00132}{ca}{cl}
\end{axis}

% ---------- bottom left
\begin{axis}[bot,at={(45.85pt,-628pt)},ymin=258,ymax=1503,ytick={500,1000,1500},yticklabels={500,1000,1500},
  legend columns=2,legend cell align=left,
  legend style={draw=none,fill=none,at={(0.032,0.81)},anchor=west,font=\fs,inner sep=0pt,
   /tikz/column 1/.style={column sep=6pt},/tikz/column 2/.style={column sep=19.5pt},/tikz/column 3/.style={column sep=6pt}}]
\addlegendimage{black,line width=1.2pt}
\addlegendentry{terrain}
\addplot[blueP,line width=1.25pt] coordinates {(-3.68,317)(-3.01,382)(-2.39,422)(-1.57,464)(-1.15,487)(-0.54,484)(-0.02,500)(1.01,533)(2.14,556)(3.59,578)(4.41,624)(4.77,650)(5,699)(5.24,791)(5.65,987)(6.01,1118)(6.16,1206)(6.42,1297)(6.63,1405)(6.81,1454)(6.99,1297)(7.2,1118)(7.45,889)(7.71,709)(8.07,487)(8.33,422)(8.7,366)};
\addlegendentry{P}
\end{axis}
\begin{axis}[twin,at={(45.85pt,-628pt)}]
\addplot[black,line width=1.2pt] coordinates {(-3.68,5)(-1.77,0)(-1.31,40)(-0.79,7)(0,0)(4.62,7)(5,53)(5.29,179)(5.65,444)(5.96,709)(6.22,1007)(6.42,1305)(6.63,1735)(6.84,2033)(7.04,2232)(7.25,2318)(7.45,2252)(7.71,2132)(8.07,1801)(8.43,1570)(8.7,1371)};
\end{axis}

% ---------- bottom right
\begin{axis}[bot,at={(304.15pt,-628pt)},ymin=-225,ymax=49,ytick={-200,-100,0},yticklabels={−200,−100,0}]
\addplot[black!50,line width=1.1pt,forget plot] coordinates {(-3.68,0)(8.7,0)};
\addplot[blueP,line width=1.25pt] coordinates {(-3.67,38)(-3.31,29)(-3,25)(-2.59,17)(-2.18,7)(-1.81,-2)(-1.35,-6)(-0.94,-14)(-0.32,-16)(0.09,-29)(0.51,-37)(0.92,-42)(1.33,-40)(1.85,-37)(2.57,-35)(3.08,-32)(3.39,-25)(3.7,-19)(4.11,-19)(4.37,-21)(4.73,-12)(4.98,-10)(5.2,-16)(5.61,-43)(6.07,-90)(6.43,-147)(6.85,-207)(7.05,-214)(7.26,-198)(7.46,-133)(7.67,-81)(7.88,-65)(8.24,-14)(8.44,-2)(8.7,12)};
\end{axis}
\begin{axis}[twin,at={(304.15pt,-628pt)}]
\addplot[black,line width=1.2pt] coordinates {(-3.68,5)(-1.77,0)(-1.31,40)(-0.79,7)(0,0)(4.62,7)(5,53)(5.29,179)(5.65,444)(5.96,709)(6.22,1007)(6.42,1305)(6.63,1735)(6.84,2033)(7.04,2232)(7.25,2318)(7.45,2252)(7.71,2132)(8.07,1801)(8.43,1570)(8.7,1371)};
\end{axis}

% ---------- map
\begin{axis}[scale only axis,width=139.35pt,height=124.65pt,anchor=south west,at={(198.65pt,-787pt)},
  xmin=52,xmax=888,ymin=44,ymax=792,y dir=reverse,hide axis,clip=true,
  colormap={brbg}{[1cm] rgb255(0cm)=(100,60,8) rgb255(1cm)=(125,78,15) rgb255(2cm)=(165,105,30) rgb255(3cm)=(200,150,70) rgb255(4cm)=(226,198,130) rgb255(5cm)=(246,232,195) rgb255(6cm)=(245,245,245) rgb255(7cm)=(207,235,230) rgb255(8cm)=(160,218,208) rgb255(9cm)=(90,180,172) rgb255(10cm)=(40,145,136) rgb255(11cm)=(1,102,94) rgb255(12cm)=(0,60,48)},
  point meta min=-6,point meta max=6]
\addplot[surf,shader=interp,mesh/cols=24,point meta=explicit,forget plot] table[row sep=\\,header=false,x expr={52+mod(\coordindex,24)*36.348},y expr={44+floor(\coordindex/24)*37.4},meta index=0] {
-0.5\\-1\\-2\\-2\\-2.5\\-3\\-3.5\\-4\\-5\\-5\\-5\\-5\\-5\\-6\\-6\\-6\\-6\\-6\\-1\\-0.5\\-0.5\\0\\-0.5\\-0.5\\
0\\-0.5\\-1.5\\-2\\-2.5\\-3\\-3.5\\-4\\-4.5\\-5\\-5\\-5\\-5.5\\-6\\-6\\-6\\-6\\-6\\-1.5\\-0.5\\-0.5\\0\\0\\0.5\\
0\\-0.5\\-1.5\\-2.5\\-3.5\\-3.5\\-3.5\\-4\\-4.5\\-5\\-5\\-5\\-5.5\\-5.5\\-6\\-5\\-6\\-5.5\\-3\\-0.5\\0\\0\\0.5\\0.5\\
0\\-0.5\\-1\\-3\\-4\\-3.5\\-3.5\\-3.5\\-4\\-5\\-5\\-5.5\\-5.5\\-5.5\\-5\\-4\\-6\\-5\\-1.5\\-0.5\\0\\0\\0\\0.5\\
0\\-0.5\\-1\\-3.5\\-3.5\\-3\\-3.5\\-3.5\\-4\\-4.5\\-5\\-5.5\\-5.5\\-5.5\\-5\\-3\\-5\\-3\\-1\\-0.5\\0\\0\\0.5\\0.5\\
1\\-0.5\\-1\\-3\\-3.5\\-3.5\\-3\\-3.5\\-3.5\\-4\\-5\\-5.5\\-5.5\\-6\\-6\\-5.5\\-4\\-2\\-1\\-0.5\\0\\0\\0.5\\1\\
1\\0\\-0.5\\-2\\-3.5\\-4\\-3.5\\-3\\-3\\-3.5\\-4\\-5\\-5\\-5.5\\-5.5\\-5\\-3\\-1\\-0.5\\-0.5\\0\\0\\0.5\\1\\
1\\0\\-0.5\\-1\\-2.5\\-3.5\\-3\\-3\\-3\\-3\\-4\\-5.5\\-6\\-6\\-5.5\\-3\\-1\\-0.5\\-0.5\\0\\0\\0\\0.5\\1\\
1.5\\0.5\\0\\-0.5\\-1.5\\-2\\-2\\-2\\-2.5\\-3\\-4.5\\-6\\-6\\-6\\-5.5\\-2\\-0.5\\0.5\\0.5\\0.5\\1\\0.5\\0.5\\0.5\\
1\\0\\0\\-0.5\\-1\\-1.5\\-1\\-1.5\\-2\\-2\\-4.5\\-6\\-6\\-6\\-6\\-1\\0.5\\1\\1.5\\1\\1\\0.5\\0.5\\0.5\\
1\\0.5\\-0.5\\-0.5\\-1\\-1.5\\-1.5\\-1.5\\-2\\-1.5\\-2\\-5.5\\-6\\-6\\-6\\-0.5\\1\\1.5\\1.5\\1.5\\1.5\\1\\1\\0.5\\
0.5\\0.5\\0.5\\-0.5\\-1\\-2\\-2\\-2\\-1.5\\-1\\-1\\-5\\-6\\-6\\-5\\0\\1.5\\2\\2\\2\\1.5\\1.5\\1\\1\\
1\\1\\0.5\\-0.5\\-1\\-1.5\\-2\\-2.5\\-2\\-1\\-0.5\\-3\\-6\\-6\\-3\\0.5\\2\\2.5\\2.5\\2\\2\\1.5\\1.5\\1\\
1\\1.5\\0.5\\-0.5\\-1\\-1.5\\-1.5\\-1.5\\-1.5\\-0.5\\0\\1\\-5\\-6\\-0.5\\1\\2\\2.5\\2\\2\\2\\1.5\\1\\1\\
0.5\\1\\0.5\\0\\-0.5\\-1\\-1\\-1\\-1\\-0.5\\0.5\\1.5\\-5\\-5.5\\1\\1.5\\2\\2.5\\2.5\\2\\2\\1.5\\1\\0.5\\
0.5\\0.5\\0.5\\0.5\\-0.5\\-1\\-1.5\\-1\\-0.5\\0\\0.5\\1.5\\3\\2\\1\\1.5\\2\\2.5\\3\\3.5\\3\\1.5\\1\\0.5\\
1\\1\\1\\1\\0.5\\0\\-0.5\\0\\0.5\\0.5\\1\\2\\4\\3\\1.5\\1.5\\2\\2.5\\3.5\\4.5\\4\\2.5\\1\\0.5\\
1.5\\1\\0.5\\0.5\\1\\1\\0.5\\0.5\\1\\1\\1.5\\1.5\\2\\1.5\\1.5\\1.5\\1.5\\2.5\\3.5\\4.5\\3.5\\2.5\\1\\0.5\\
3\\1\\0.5\\1\\1.5\\1.5\\1.5\\1.5\\1.5\\1.5\\1.5\\1.5\\1.5\\1.5\\1.5\\2\\2\\2.5\\2.5\\3\\2.5\\1.5\\1\\1\\
1.5\\1.5\\1.5\\1.5\\2\\2\\2\\2.5\\2\\2\\1.5\\1.5\\1.5\\1.5\\2.5\\3\\3.5\\3\\2.5\\2\\1.5\\1\\1\\1\\
1\\1\\1.5\\1.5\\1.5\\2\\2\\2\\1.5\\1.5\\2\\1.5\\1.5\\1.5\\2.5\\3.5\\4.5\\3.5\\2\\1.5\\1\\1\\0.5\\0.5\\
};
\Lm{(556,52)(575,70)(560,105)(545,125)(548,145)(530,175)(522,205)(490,215)(470,240)(440,280)(410,295)(385,320)(368,340)(372,365)(365,380)(375,420)(378,450)(390,480)(400,510)(398,545)(420,570)(422,595)(450,615)(480,630)(520,635)(550,620)(575,590)(600,560)(630,530)(660,580)(700,620)(720,650)(750,690)(745,710)(720,750)(700,770)}
\Lm{(715,55)(725,75)(705,95)(712,115)(690,130)(695,150)(672,165)(678,185)(650,190)(660,210)(690,225)(700,250)(720,270)(705,285)(735,310)(745,340)(725,345)(695,340)(690,360)(700,385)(680,380)(665,370)(640,375)(625,385)(600,395)(590,420)(570,430)(565,460)(570,480)(555,495)(553,540)}
\Lm{(610,55)(625,60)(615,90)(628,130)(625,160)(600,200)(590,225)(560,245)(520,270)(480,290)(440,320)(430,350)(400,360)(395,390)(408,410)(410,430)(430,470)(445,505)(448,530)}
\Lm{(530,285)(490,310)(460,340)(445,380)(470,395)(490,400)(480,420)(465,445)(450,480)(470,490)(480,520)(478,550)(495,545)(490,510)(500,500)(520,480)(530,460)}
\Lm{(530,310)(520,340)(535,345)(560,320)(570,295)(545,290)(530,285)}
\Lm{(130,495)(135,475)(150,445)(175,435)(180,460)(165,500)(150,520)(130,505)(110,490)(130,495)}
\Lm{(760,85)(772,82)(785,95)(775,102)(760,85)}
\Lm{(650,125)(660,120)(665,128)(655,133)(650,125)}
\Lm{(630,245)(650,240)(640,260)(630,245)}
\Lm{(505,365)(520,362)(523,375)(508,380)(505,365)}
\Lm{(610,433)(620,428)(622,438)(612,440)(610,433)}
\Lm{(131,537)(138,535)(139,541)(132,541)(131,537)}
\Lm{(52,550)(85,548)(97,570)(85,590)(75,620)(52,640)}
\Lm{(52,660)(110,658)(130,675)(125,700)(105,730)(85,775)(100,792)}
\Lm{(888,135)(860,170)(855,210)(835,245)(845,275)(838,310)(860,350)(888,358)}
\Lm{(555,700)(600,670)(625,640)(650,640)(665,660)(665,700)(690,715)(690,750)(680,770)(715,790)}
\Lm{(555,700)(550,740)(565,775)(565,792)}
\Lm{(888,705)(850,720)(850,740)(870,760)(860,790)}
\Lm{(765,775)(780,755)(790,775)(820,792)}
\addplot[draw=black!85,line width=1pt,forget plot] coordinates {(52,424)(555,424)(555,575)(52,575)(52,424)};
\addplot[draw=frame,line width=0.6pt,forget plot] coordinates {(52,792)(52,44)(888,44)(888,792)};
\end{axis}

% ---------- text labels
\node[rotate=90] at (12pt,-36.75pt) {\fs T};
\node[rotate=90] at (12pt,-116.6pt) {\fs \textit{N}\raisebox{0.8ex}{\fontsize{6}{7}\selectfont 2}};
\node[rotate=90] at (12pt,-196.5pt) {\fs W};
\node[rotate=90] at (12pt,-276.3pt) {\fs QCLOUD};
\node[rotate=90] at (12pt,-356.4pt) {\fs QGRAUP};
\node[rotate=90] at (12pt,-436.2pt) {\fs QSNOW};
\node[rotate=90] at (12pt,-516.4pt) {\fs QRAIN};
\node[rotate=90] at (539.5pt,-35.5pt) {\fs °C};
\node[rotate=90] at (536.5pt,-116.6pt) {\fs \%};
\node[rotate=90] at (552pt,-196.5pt) {\fs m/s};
\node[rotate=90] at (552pt,-276.3pt) {\fs g/kg};
\node[rotate=90] at (556pt,-356.4pt) {\fs g/kg};
\node[rotate=90] at (552pt,-436.2pt) {\fs g/kg};
\node[rotate=90] at (556.5pt,-516.4pt) {\fs g/kg};
\node[rotate=90] at (9pt,-597pt) {\fs mm};
\node at (146pt,-650pt) {\fs lon};
\node at (404pt,-650pt) {\fs lon};
\end{tikzpicture}
\end{document}
